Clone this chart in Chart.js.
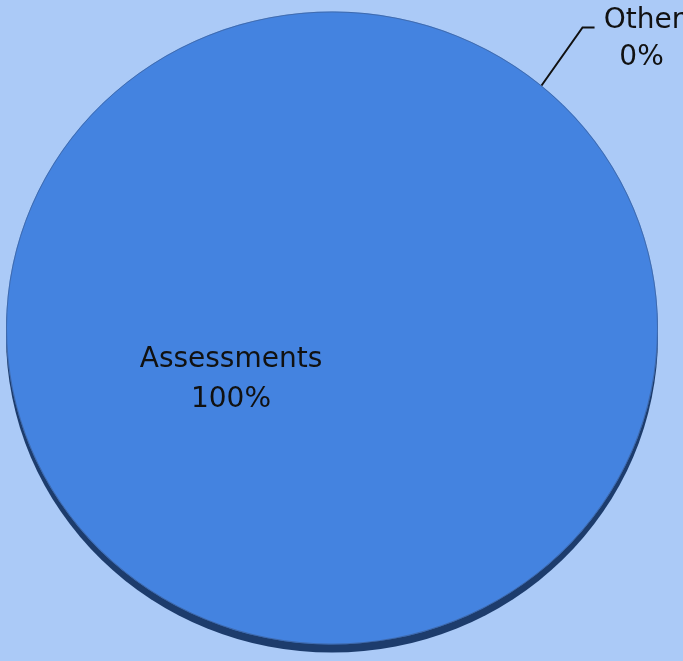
<!DOCTYPE html>
<html>
<head>
<meta charset="utf-8">
<script src="https://cdn.jsdelivr.net/npm/chart.js@4"></script>
<style>
  html, body { margin: 0; padding: 0; background: #abcaf7; }
  #wrap { width: 683px; height: 661px; position: relative; overflow: hidden; }
</style>
</head>
<body>
<div id="wrap"><canvas id="pie" width="683" height="661"></canvas></div>
<script>
// slices
var categories = ['Assessments', 'Other'];
var shares = [100, 0];

var FILL = '#4483e0', EDGE = '#1d3c6c', TILT = 0.971, DEPTH = 8;
var FONT = '"DejaVu Sans", sans-serif';

//把饼压扁一点，画出底部厚度
var tilt = {
  id: 'tilt',
  beforeDatasetsDraw: function(chart){
    var ctx = chart.ctx, arc = chart.getDatasetMeta(0).data[0];
    var cx = arc.x, cy = arc.y, r = arc.outerRadius;
    ctx.save();
    ctx.fillStyle = EDGE;
    ctx.beginPath();
    ctx.ellipse(cx, cy + DEPTH, r, r*TILT, 0, 0, Math.PI*2);
    ctx.fill();
    ctx.restore();

    ctx.save();
    ctx.translate(cx, cy);
    ctx.scale(1, TILT);
    ctx.translate(-cx, -cy);
  },
  afterDatasetsDraw: function(chart){
    var ctx = chart.ctx, arc = chart.getDatasetMeta(0).data[0];
    ctx.restore();
    //外圈细边
    ctx.save();
    ctx.strokeStyle = 'rgba(60,90,140,0.6)';
    ctx.lineWidth = 1;
    ctx.beginPath();
    ctx.ellipse(arc.x, arc.y, arc.outerRadius - 0.5, (arc.outerRadius - 0.5)*TILT, 0, 0, Math.PI*2);
    ctx.stroke();
    ctx.restore();
  }
};

//数据标签
var labels = {
  id: 'pieLabels',
  afterDraw: function(chart){
    var ctx = chart.ctx, meta = chart.getDatasetMeta(0), data = chart.data.datasets[0].data;
    var total = data.reduce(function(a, b){ return a + b; }, 0);
    ctx.save();
    ctx.fillStyle = '#111';
    ctx.font = '28px ' + FONT;
    ctx.textAlign = 'center';
    ctx.textBaseline = 'middle';

    meta.data.forEach(function(arc, i){
      var pct = Math.round(data[i]/total*100) + '%', name = chart.data.labels[i];
      if(data[i] > 0){
        var x = arc.x - 101, y = arc.y + 52;
        ctx.fillText(name, x, y - 20);
        ctx.fillText(pct, x, y + 20);
      }else{
        var mid = (arc.startAngle + arc.endAngle)/2, r = arc.outerRadius;
        var sx = arc.x + Math.cos(mid)*r, sy = arc.y + Math.sin(mid)*r*TILT;
        var kx = sx + 41, ky = sy - 58;
        ctx.strokeStyle = '#111';
        ctx.lineWidth = 2;
        ctx.beginPath();
        ctx.moveTo(sx, sy);
        ctx.lineTo(kx, ky);
        ctx.lineTo(kx + 12, ky);
        ctx.stroke();
        ctx.fillText(name, kx + 61, ky - 7);
        ctx.fillText(pct, kx + 59, ky + 30);
      }
    });
    ctx.restore();
  }
};

new Chart(document.getElementById('pie'), {
  type: 'pie',
  data: {
    labels: categories,
    datasets: [{
      data: shares,
      backgroundColor: [FILL, '#c0504d'],
      borderWidth: 0
    }]
  },
  options: {
    responsive: false,
    animation: false,
    rotation: 40,
    layout: { padding: { left: 6, right: 25, top: 2, bottom: 7 } },
    plugins: { legend: { display: false }, tooltip: { enabled: false } }
  },
  plugins: [tilt, labels]
});
</script>
</body>
</html>
